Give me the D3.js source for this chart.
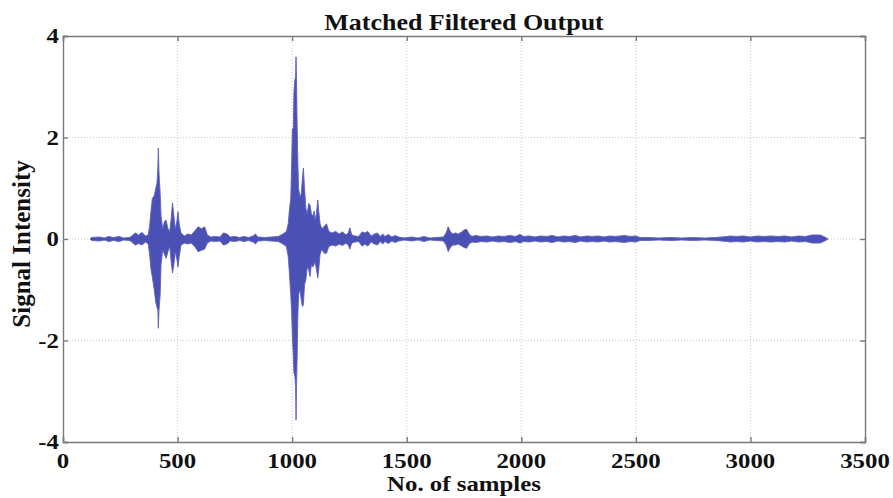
<!DOCTYPE html>
<html>
<head>
<meta charset="utf-8">
<script src="https://cdn.jsdelivr.net/npm/d3@7"></script>
<style>
  html, body { margin: 0; padding: 0; background: #fff; }
  svg { display: block; }
  text { font-family: "Liberation Serif", "Times New Roman", serif; font-weight: bold; fill: #111; }
</style>
</head>
<body>
<svg id="chart" width="893" height="498"></svg>
<script>
// ---- data ----
const chartTitle = "Matched Filtered Output";
const xLabel = "No. of samples";
const yLabel = "Signal Intensity";
const xTicks = [0, 500, 1000, 1500, 2000, 2500, 3000, 3500];
const yTicks = [-4, -2, 0, 2, 4];

// envelope of the matched-filter output: [sample index, upper extreme, lower extreme]
const leadIn = [
  [118,0,0],[125,0.03,-0.03],[160,0.04,-0.04],[180,0.02,-0.02],[200,0.05,-0.05],[220,0.03,-0.03],
  [245,0.05,-0.05],[265,0.02,-0.02],[290,0.03,-0.03],[300,0.06,-0.06],[315,0.12,-0.12],[330,0.08,-0.09],
  [345,0.13,-0.12],[360,0.06,-0.06],[372,0.08,-0.1]
];
const firstEcho = [
  [378,0.25,-0.3],[384,0.55,-0.6],[390,0.8,-0.75],[398,0.85,-1.0],[405,1.0,-1.25],[410,1.1,-1.35],
  [414,1.4,-1.4],[416,1.79,-1.76],[419,1.3,-1.4],[424,0.9,-1.1],[428,0.45,-0.5],[435,0.2,-0.22],
  [443,0.35,-0.3],[450,0.37,-0.38],[458,0.2,-0.25],[466,0.15,-0.15],[472,0.4,-0.45],[478,0.71,-0.67],
  [484,0.45,-0.5],[490,0.2,-0.25],[497,0.35,-0.4],[502,0.54,-0.55],[507,0.3,-0.35],[515,0.12,-0.12],
  [530,0.06,-0.08],[545,0.1,-0.1],[560,0.08,-0.08],[575,0.16,-0.15],[590,0.24,-0.25],[605,0.2,-0.22],
  [618,0.24,-0.2],[630,0.08,-0.08],[645,0.04,-0.04],[665,0.05,-0.05],[685,0.04,-0.04],[700,0.12,-0.12],
  [715,0.1,-0.1],[730,0.04,-0.04],[750,0.05,-0.05],[770,0.03,-0.03],[790,0.05,-0.05],[810,0.03,-0.03],
  [830,0.06,-0.06],[840,0.1,-0.1],[850,0.04,-0.04],[880,0.03,-0.03],[910,0.04,-0.04],[940,0.05,-0.05],
  [960,0.1,-0.1]
];
const secondEcho = [
  [975,0.15,-0.15],[983,0.3,-0.35],[988,0.57,-0.67],[994,0.8,-1.1],[998,1.5,-1.46],[1001,2.15,-1.9],
  [1005,2.2,-2.3],[1008,2.9,-2.64],[1012,3.13,-2.7],[1015,3.2,-2.9],[1017,3.59,-3.57],[1019,3.13,-2.9],
  [1022,2.2,-2.3],[1025,1.5,-1.5],[1028,1.0,-1.1],[1034,0.83,-1.0],[1040,0.9,-1.2],[1045,1.2,-1.33],
  [1049,1.4,-1.3],[1054,1.0,-0.9],[1060,0.6,-0.8],[1066,0.5,-0.55],[1072,0.7,-0.6],[1078,0.67,-0.74],
  [1084,0.5,-0.5],[1090,0.45,-0.55],[1096,0.55,-0.5],[1100,0.37,-0.45],[1106,0.5,-0.6],[1112,0.77,-0.77],
  [1116,0.55,-0.6],[1122,0.3,-0.3],[1130,0.2,-0.2],[1140,0.25,-0.28],[1150,0.3,-0.28],[1160,0.15,-0.15],
  [1175,0.12,-0.12],[1190,0.15,-0.14],[1205,0.1,-0.1],[1220,0.14,-0.13],[1235,0.08,-0.08],[1245,0.12,-0.12],
  [1252,0.22,-0.2],[1260,0.08,-0.08],[1275,0.06,-0.06],[1290,0.05,-0.05],[1305,0.14,-0.14],[1318,0.12,-0.1],
  [1330,0.15,-0.14],[1345,0.06,-0.06],[1360,0.1,-0.1],[1372,0.12,-0.12],[1385,0.05,-0.05],[1395,0.1,-0.1],
  [1405,0.05,-0.05],[1420,0.09,-0.09],[1435,0.04,-0.04],[1450,0.07,-0.07],[1465,0.04,-0.04],[1490,0.02,-0.02],
  [1520,0.04,-0.04],[1550,0.02,-0.02],[1575,0.05,-0.05],[1600,0.02,-0.02],[1630,0.03,-0.03],[1660,0.04,-0.04]
];
const thirdEcho = [
  [1672,0.12,-0.12],[1681,0.24,-0.25],[1690,0.15,-0.17],[1700,0.1,-0.12],[1712,0.12,-0.12],[1725,0.1,-0.1],
  [1740,0.14,-0.14],[1752,0.18,-0.17],[1762,0.19,-0.18],[1772,0.1,-0.1],[1785,0.05,-0.06]
];
const tail = [
  [1800,0.07,-0.07],[1825,0.05,-0.05],[1850,0.06,-0.06],[1875,0.04,-0.04],[1900,0.06,-0.06],[1925,0.05,-0.05],
  [1950,0.07,-0.07],[1975,0.05,-0.05],[1994,0.09,-0.08],[2010,0.05,-0.05],[2035,0.06,-0.06],[2060,0.04,-0.04],
  [2085,0.06,-0.06],[2110,0.05,-0.05],[2135,0.07,-0.07],[2160,0.04,-0.04],[2185,0.06,-0.06],[2210,0.05,-0.05],
  [2235,0.07,-0.07],[2260,0.04,-0.04],[2285,0.06,-0.06],[2310,0.05,-0.05],[2335,0.06,-0.06],[2360,0.04,-0.04],
  [2385,0.06,-0.06],[2410,0.05,-0.05],[2431,0.06,-0.06],[2450,0.07,-0.07],[2475,0.05,-0.05],[2500,0.06,-0.06],
  [2518,0.03,-0.03],[2550,0.03,-0.03],[2600,0.02,-0.02],[2650,0.03,-0.03],[2700,0.02,-0.02],[2750,0.03,-0.03],
  [2800,0.02,-0.02],[2850,0.03,-0.03],[2900,0.05,-0.05],[2911,0.06,-0.06],[2940,0.05,-0.05],[2970,0.06,-0.06],
  [3000,0.04,-0.04],[3030,0.06,-0.06],[3060,0.05,-0.05],[3090,0.06,-0.06],[3120,0.05,-0.05],[3150,0.06,-0.06],
  [3180,0.04,-0.04],[3210,0.06,-0.06],[3240,0.05,-0.05],[3270,0.08,-0.08],[3304,0.08,-0.08],[3320,0.05,-0.05],
  [3339,0,0]
];

// ---- layout ----
const margin = { left: 63, right: 28, top: 36, bottom: 56 };
const W = 893, H = 498;
const svg = d3.select("#chart");

const x = d3.scaleLinear().domain([0, 3500]).range([margin.left, W - margin.right]);
const y = d3.scaleLinear().domain([-4, 4]).range([H - margin.bottom, margin.top]);
const x0 = x.range()[0], x1 = x.range()[1], y0 = y.range()[0], y1 = y.range()[1];

// grid
const grid = svg.append("g").attr("stroke", "#c8c8c8").attr("stroke-width", 1).attr("stroke-dasharray", "1,2");
grid.selectAll("line.gx").data(xTicks.slice(1, -1)).join("line").attr("class", "gx")
  .attr("x1", d => x(d)).attr("x2", d => x(d)).attr("y1", y1).attr("y2", y0);
grid.selectAll("line.gy").data(yTicks.slice(1, -1)).join("line").attr("class", "gy")
  .attr("y1", d => y(d)).attr("y2", d => y(d)).attr("x1", x0).attr("x2", x1);

// signal
const env = [].concat(leadIn, firstEcho, secondEcho, thirdEcho, tail)
  .map(([s, u, l]) => ({ s, u, l }));
const area = d3.area().x(d => x(d.s)).y0(d => y(d.l)).y1(d => y(d.u));
svg.append("path").datum(env).attr("d", area)
  .attr("fill", "#4a50b4").attr("stroke", "#5c61bd").attr("stroke-width", 0.9).attr("stroke-linejoin", "round");

// axes (box, inward ticks)
const axisColor = "#7a7a7a";
const mk = [
  [d3.axisBottom(x).tickValues(xTicks), `translate(0,${y0})`],
  [d3.axisTop(x).tickValues(xTicks), `translate(0,${y1})`],
  [d3.axisLeft(y).tickValues(yTicks), `translate(${x0},0)`],
  [d3.axisRight(y).tickValues(yTicks), `translate(${x1},0)`]
];
mk.forEach(([ax, tr]) => {
  const g = svg.append("g").attr("transform", tr).call(ax.tickSize(-5).tickFormat(""));
  g.selectAll("path, line").attr("stroke", axisColor).attr("stroke-width", 1.4);
});

// labels
const sx = 1.13;
function label(txt, px, py, size, anchor, scaleX) {
  svg.append("text").attr("transform", `translate(${px},${py}) scale(${scaleX},1)`)
    .attr("text-anchor", anchor).attr("font-size", size).text(txt);
}
xTicks.forEach(t => label(String(t), x(t), 468, 22, "middle", sx));
yTicks.forEach(t => label(String(t), x0 - 4, y(t) + 7, 22, "end", sx));
label(chartTitle, (x0 + x1) / 2, 30, 23, "middle", sx);
label(xLabel, (x0 + x1) / 2, 491, 22, "middle", sx);
svg.append("text").attr("transform", `translate(30,${(y0 + y1) / 2 + 5}) rotate(-90)`)
  .attr("text-anchor", "middle").attr("font-size", 25).text(yLabel);
</script>
</body>
</html>
